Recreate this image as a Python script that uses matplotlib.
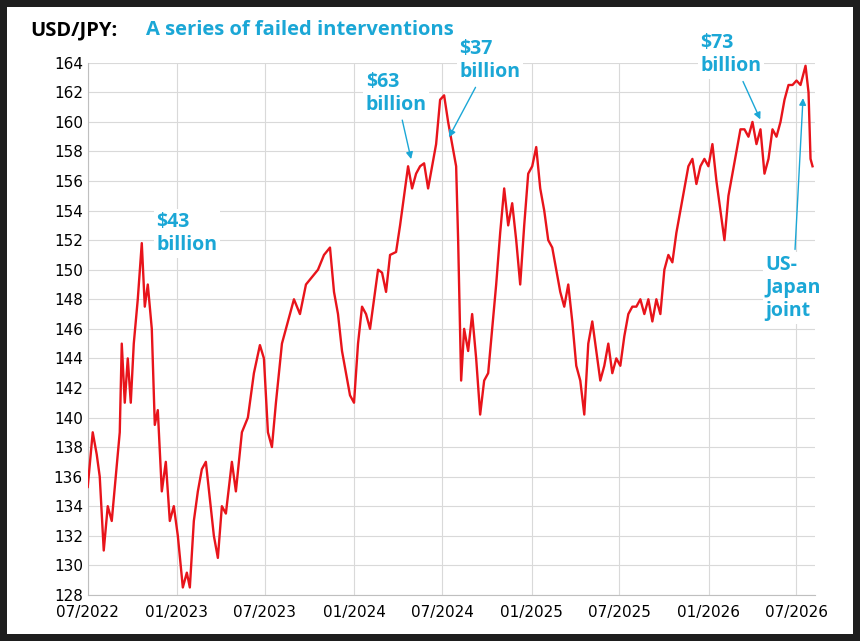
#!/usr/bin/env python3
"""
usdjpy_interventions.py

USD/JPY spot since mid-2022 with the sizes of Japanese FX interventions
marked, showing how each one faded.

Outputs:
  - out.png
"""
from __future__ import annotations

import numpy as np
import pandas as pd


def main() -> None:
    # ============== Data ==============
    # positions, in chart-x units (about 2.064 days each)
    x_read = np.array([
        88, 93, 97, 100, 104, 108, 112, 116, 120, 122, 125, 128, 131, 134, 138,
        142, 145, 148, 152, 155, 158, 162, 166, 170, 174, 178, 183, 187, 190,
        194, 198, 202, 206, 210, 214, 218, 222, 226, 232, 236, 242, 248, 254,
        260, 264, 268, 272, 276, 282, 288, 294, 300, 306, 312, 318, 324, 330,
        334, 338, 342, 346, 350, 354, 358, 362, 366, 370, 374, 378, 382, 386,
        390, 396, 400, 404, 408, 412, 416, 420, 424, 428, 432, 436, 440, 444,
        448, 452, 456, 458, 461, 464, 468, 472, 476, 480, 484, 488, 492, 496,
        500, 504, 508, 512, 516, 520, 524, 528, 532, 536, 540, 544, 548, 552,
        556, 560, 564, 568, 572, 576, 580, 584, 588, 592, 596, 600, 604, 608,
        612, 616, 620, 624, 628, 632, 636, 640, 644, 648, 652, 656, 660, 664,
        668, 672, 676, 680, 684, 688, 692, 696, 700, 704, 708, 712, 716, 720,
        724, 728, 732, 736, 740, 744, 748, 752, 756, 760, 764, 768, 772, 776,
        780, 784, 788, 792, 796, 800, 805, 808, 810, 812,
    ])
    rate = np.array([
        135.3, 139.0, 137.5, 136.0, 131.0, 134.0, 133.0, 136.0, 139.0, 145.0,
        141.0, 144.0, 141.0, 145.0, 148.0, 151.8, 147.5, 149.0, 146.0, 139.5,
        140.5, 135.0, 137.0, 133.0, 134.0, 132.0, 128.5, 129.5, 128.5, 133.0,
        135.0, 136.5, 137.0, 134.5, 132.0, 130.5, 134.0, 133.5, 137.0, 135.0,
        139.0, 140.0, 143.0, 144.9, 144.0, 139.0, 138.0, 141.0, 145.0, 146.5,
        148.0, 147.0, 149.0, 149.5, 150.0, 151.0, 151.5, 148.5, 147.0, 144.5,
        143.0, 141.5, 141.0, 145.0, 147.5, 147.0, 146.0, 148.0, 150.0, 149.8,
        148.5, 151.0, 151.2, 153.0, 155.0, 157.0, 155.5, 156.5, 157.0, 157.2,
        155.5, 157.0, 158.5, 161.5, 161.8, 160.0, 158.5, 157.0, 152.0, 142.5,
        146.0, 144.5, 147.0, 144.0, 140.2, 142.5, 143.0, 146.0, 149.0, 152.5,
        155.5, 153.0, 154.5, 152.0, 149.0, 153.0, 156.5, 157.0, 158.3, 155.5,
        154.0, 152.0, 151.5, 150.0, 148.5, 147.5, 149.0, 146.5, 143.5, 142.5,
        140.2, 145.0, 146.5, 144.5, 142.5, 143.5, 145.0, 143.0, 144.0, 143.5,
        145.5, 147.0, 147.5, 147.5, 148.0, 147.0, 148.0, 146.5, 148.0, 147.0,
        150.0, 151.0, 150.5, 152.5, 154.0, 155.5, 157.0, 157.5, 155.8, 157.0,
        157.5, 157.0, 158.5, 156.0, 154.0, 152.0, 155.0, 156.5, 158.0, 159.5,
        159.5, 159.0, 160.0, 158.5, 159.5, 156.5, 157.5, 159.5, 159.0, 160.0,
        161.5, 162.5, 162.5, 162.8, 162.5, 163.8, 162.0, 157.5, 157.0,
    ])
    start = pd.Timestamp("2022-07-01")
    dates = start + pd.to_timedelta((x_read - 88) * 2.064, unit="D")

    # interventions: (label, text position, arrow target)
    notes = [
        ("\\$43\nbillion", ("2022-11-20", 151.0), None),
        ("\\$63\nbillion", ("2024-01-25", 163.4), ("2024-04-29", 157.3)),
        ("\\$37\nbillion", ("2024-08-05", 165.6), ("2024-07-12", 158.8)),
        ("\\$73\nbillion", ("2025-12-15", 166.0), ("2026-04-20", 160.0)),
        ("US-\nJapan\njoint", ("2026-04-28", 151.0), ("2026-07-15", 161.8)),
    ]

    # ============== Plot ==============
    import matplotlib
    matplotlib.use("Agg")
    import matplotlib.dates as mdates
    import matplotlib.pyplot as plt

    blue = "#1ba7d6"
    fig = plt.figure(figsize=(8.6, 6.41), dpi=100)
    fig.patch.set_edgecolor("#1e1e1e")
    fig.patch.set_linewidth(10)
    ax = fig.add_axes([0.102, 0.072, 0.846, 0.83])
    ax.plot(dates, rate, color="#e8141b", linewidth=1.7, zorder=3)
    ax.set_ylim(128, 164)
    ax.set_yticks(np.arange(128, 165, 2))
    ax.set_xlim(start, pd.Timestamp("2026-08-09"))
    ax.xaxis.set_major_locator(mdates.MonthLocator(bymonth=[1, 7]))
    ax.xaxis.set_major_formatter(mdates.DateFormatter("%m/%Y"))
    ax.tick_params(labelsize=11, length=0)
    ax.tick_params(axis="x", pad=7)
    ax.grid(color="#d9d9d9", linewidth=0.8)
    for side in ["top", "right"]:
        ax.spines[side].set_visible(False)
    ax.spines["left"].set_color("#bfbfbf")
    ax.spines["bottom"].set_color("#bfbfbf")

    for text, pos, target in notes:
        if target is None:
            ax.text(pd.Timestamp(pos[0]), pos[1], text, color=blue,
                    fontsize=14, fontweight="bold", family="Open Sans",
                    va="bottom", zorder=4,
                    bbox=dict(facecolor="white", edgecolor="none", pad=2))
        else:
            ax.annotate(text, xy=(pd.Timestamp(target[0]), target[1]),
                        xytext=(pd.Timestamp(pos[0]), pos[1]),
                        color=blue, fontsize=14, fontweight="bold",
                        family="Open Sans", va="top", zorder=4,
                        annotation_clip=False,
                        bbox=dict(facecolor="white", edgecolor="none", pad=2),
                        arrowprops=dict(arrowstyle="-|>", color=blue, lw=1.0,
                                        mutation_scale=10))

    fig.text(0.035, 0.945, "USD/JPY:", fontsize=14.5, fontweight="bold",
             family="Open Sans", color="black")
    fig.text(0.17, 0.945, "A series of failed interventions", fontsize=14.5,
             fontweight="bold", family="Open Sans", color=blue)
    plt.savefig("out.png", dpi=100, facecolor="white",
                edgecolor=fig.get_edgecolor())
    plt.close(fig)


if __name__ == "__main__":
    main()
